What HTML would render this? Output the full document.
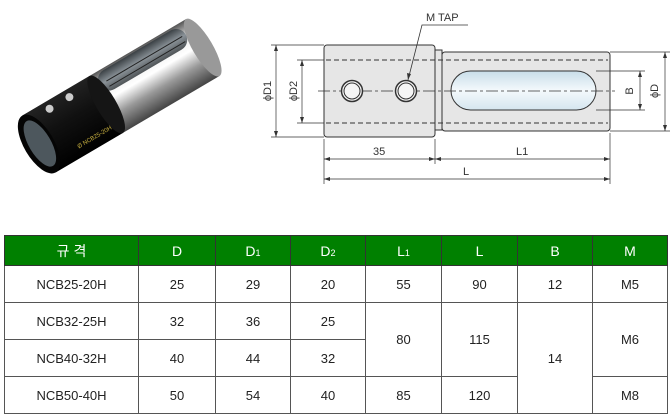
<!DOCTYPE html>
<html><head><meta charset="utf-8"><style>
body{margin:0;background:#fff;width:670px;height:418px;overflow:hidden;position:relative;font-family:"Liberation Sans","Noto Sans CJK KR",sans-serif}
table{position:absolute;left:4px;top:235px;border-collapse:collapse;width:663px;table-layout:fixed}
td,th{border:1px solid #555;text-align:center;font-size:13px;color:#222;font-weight:normal;padding:0}
th{background:#008000;color:#fff;height:29px;border-color:#333;font-size:14px}
td{height:36px}
sub{font-size:9px;vertical-align:baseline}
</style></head><body>
<svg width="670" height="230" style="position:absolute;left:0;top:0" font-family="Liberation Sans,sans-serif">
<defs>
<linearGradient id="sil" x1="0" y1="0" x2="0" y2="1">
<stop offset="0" stop-color="#555"/><stop offset="0.25" stop-color="#eee"/><stop offset="0.45" stop-color="#fff"/><stop offset="0.7" stop-color="#999"/><stop offset="1" stop-color="#444"/></linearGradient>
<linearGradient id="blk" x1="0" y1="0" x2="0" y2="1">
<stop offset="0" stop-color="#222"/><stop offset="0.4" stop-color="#111"/><stop offset="1" stop-color="#000"/></linearGradient>
<linearGradient id="win" x1="0" y1="0" x2="0" y2="1"><stop offset="0" stop-color="#3a4044"/><stop offset="0.5" stop-color="#8a9298"/><stop offset="1" stop-color="#505558"/></linearGradient>
<linearGradient id="slot" x1="0" y1="0" x2="0" y2="1"><stop offset="0" stop-color="#c8dde8"/><stop offset="0.5" stop-color="#f4f9fc"/><stop offset="1" stop-color="#d5e6ef"/></linearGradient>
</defs>
<g transform="translate(39,144) rotate(-30.5)">
<rect x="0" y="-33" width="190" height="66" fill="url(#sil)"/>
<ellipse cx="190" cy="0" rx="10" ry="33" fill="#999"/>
<rect x="82" y="-31" width="100" height="22" rx="11" fill="url(#win)"/>
<path d="M90 -20H178M90 -14H178" stroke="#222" stroke-width="1"/>
<rect x="0" y="-33" width="78" height="66" fill="url(#blk)"/>
<ellipse cx="78" cy="0" rx="10" ry="33" fill="#151515"/>
<ellipse cx="0" cy="0" rx="15" ry="33" fill="#050505"/>
<ellipse cx="1" cy="0" rx="11" ry="26" fill="#4d575d"/>
<circle cx="27" cy="-25" r="4" fill="#ccc"/><circle cx="50" cy="-25" r="4" fill="#ccc"/>
<text x="32" y="24" font-size="6" fill="#c8b040">Ø NCB25-20H</text>
</g>
<g stroke="#333" fill="none" stroke-width="1">
<rect x="324" y="45" width="111" height="92" rx="3" fill="#e6e6e6"/>
<rect x="435" y="50" width="7" height="80" fill="#e6e6e6"/>
<rect x="442" y="52" width="168" height="79" rx="3" fill="#e6e6e6"/>
<rect x="451" y="71" width="145" height="39" rx="19.5" fill="url(#slot)"/>
<path d="M326 60H608M326 123H608" stroke-dasharray="5,3"/>
<path d="M318 91H615" stroke-dasharray="12,3,3,3" stroke-width="0.7"/>
<circle cx="352" cy="91" r="10.5" fill="#f5f5f5" stroke-width="1.5"/><circle cx="352" cy="91" r="8"/>
<circle cx="406" cy="91" r="10.5" fill="#f5f5f5" stroke-width="1.5"/><circle cx="406" cy="91" r="8"/>
<path d="M408 80L422 25H468" stroke-width="0.8"/>
<g stroke-width="0.7">
<path d="M271 45H324M271 137H324M276 45V137"/>
<path d="M297 60H324M297 123H324M302 60V123"/>
<path d="M596 71H645M596 110H645M640 71V110"/>
<path d="M610 52H670M610 131H670M665 52V131"/>
<path d="M324 139V184M435 139V164M610 133V184M324 159H610M324 179H610"/>
</g>
</g>
<g fill="#333">
<path d="M276 45l-2 6h4zM276 137l-2-6h4zM302 60l-2 6h4zM302 123l-2-6h4zM640 71l-2 6h4zM640 110l-2-6h4zM665 52l-2 6h4zM665 131l-2-6h4z"/>
<path d="M324 159l6-2v4zM435 159l-6-2v4zM435 159l6-2v4zM610 159l-6-2v4zM324 179l6-2v4zM610 179l-6-2v4zM408 80l-1-7 4 1z"/>
</g>
<g font-size="11" fill="#333">
<text x="426" y="21">M TAP</text>
<text x="373" y="155">35</text>
<text x="516" y="155">L1</text>
<text x="463" y="175">L</text>
<text transform="translate(271,91) rotate(-90)" text-anchor="middle">ϕD1</text>
<text transform="translate(297,91) rotate(-90)" text-anchor="middle">ϕD2</text>
<text transform="translate(633,91) rotate(-90)" text-anchor="middle">B</text>
<text transform="translate(658,91) rotate(-90)" text-anchor="middle">ϕD</text>
</g>
</svg>
<table>
<colgroup><col style="width:134px"><col style="width:77px"><col style="width:75px"><col style="width:75px"><col style="width:76px"><col style="width:76px"><col style="width:75px"><col style="width:75px"></colgroup>
<tr><th>규 격</th><th>D</th><th>D<sub>1</sub></th><th>D<sub>2</sub></th><th>L<sub>1</sub></th><th>L</th><th>B</th><th>M</th></tr>
<tr><td>NCB25-20H</td><td>25</td><td>29</td><td>20</td><td>55</td><td>90</td><td>12</td><td>M5</td></tr>
<tr><td>NCB32-25H</td><td>32</td><td>36</td><td>25</td><td rowspan="2">80</td><td rowspan="2">115</td><td rowspan="3">14</td><td rowspan="2">M6</td></tr>
<tr><td>NCB40-32H</td><td>40</td><td>44</td><td>32</td></tr>
<tr><td>NCB50-40H</td><td>50</td><td>54</td><td>40</td><td>85</td><td>120</td><td>M8</td></tr>
</table>
</body></html>
